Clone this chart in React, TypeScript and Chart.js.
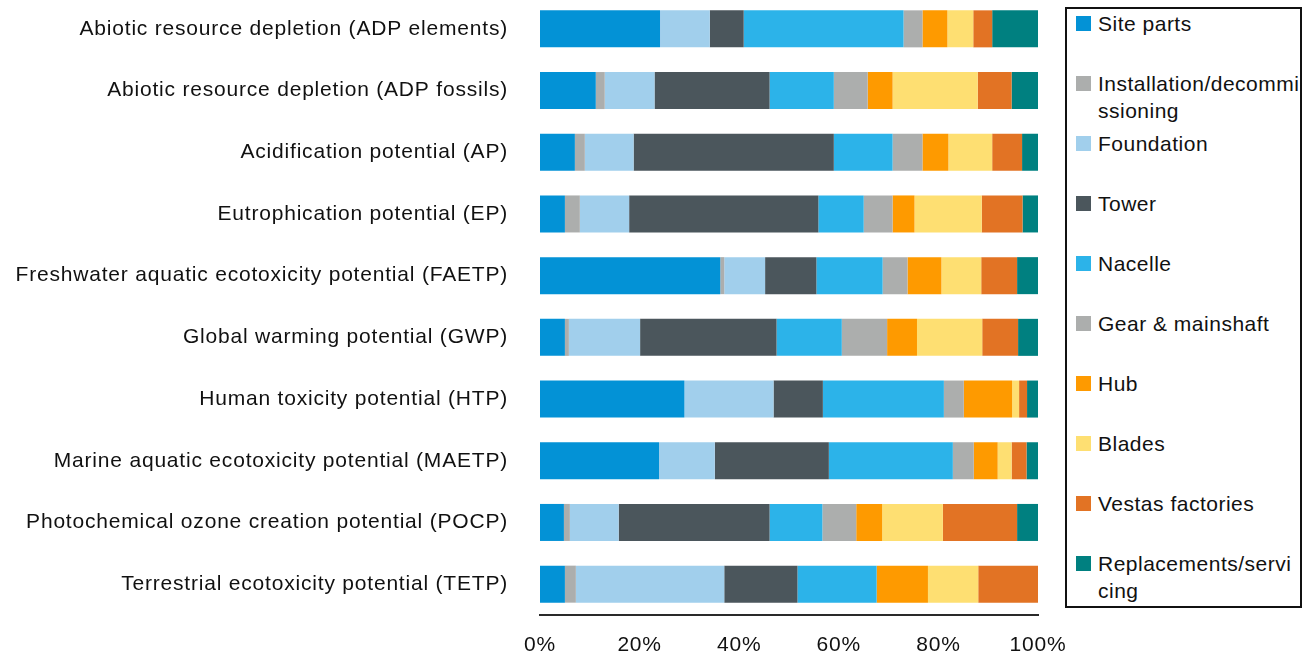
import React, { useEffect, useRef } from "react";
import { Chart, registerables } from "chart.js";

Chart.register(...registerables);

const categories = [
  "Abiotic resource depletion (ADP elements)",
  "Abiotic resource depletion (ADP fossils)",
  "Acidification potential (AP)",
  "Eutrophication potential (EP)",
  "Freshwater aquatic ecotoxicity potential (FAETP)",
  "Global warming potential (GWP)",
  "Human toxicity potential (HTP)",
  "Marine aquatic ecotoxicity potential (MAETP)",
  "Photochemical ozone creation potential (POCP)",
  "Terrestrial ecotoxicity potential (TETP)",
];

const seriesLabels = [
  "Site parts",
  "Installation/decommissioning",
  "Foundation",
  "Tower",
  "Nacelle",
  "Gear & mainshaft",
  "Hub",
  "Blades",
  "Vestas factories",
  "Replacements/servicing",
];

const seriesColors = [
  "#0392D6",
  "#ACAEAD",
  "#A1CFEC",
  "#4B565C",
  "#2CB3E9",
  "#ACAEAD",
  "#FE9A00",
  "#FEDF72",
  "#E27324",
  "#008080",
];

// Share (%) of each life-cycle stage, one value per category (top to bottom)
const siteParts = [24.1, 11.2, 7.0, 5.0, 36.2, 5.0, 29.0, 23.9, 4.8, 5.0];
const installation = [0, 1.8, 2.0, 3.0, 0.8, 0.8, 0, 0, 1.2, 2.2];
const foundation = [10.0, 10.0, 9.8, 9.9, 8.2, 14.3, 17.9, 11.2, 9.8, 29.8];
const tower = [6.8, 23.1, 40.2, 38.0, 10.3, 27.4, 9.9, 22.9, 30.3, 14.7];
const nacelle = [32.1, 12.9, 11.8, 9.1, 13.3, 13.1, 24.3, 24.9, 10.6, 15.9];
const gearMainshaft = [3.8, 6.8, 6.0, 5.8, 5.0, 9.1, 4.0, 4.2, 6.8, 0];
const hub = [5.0, 5.0, 5.2, 4.4, 6.8, 6.0, 9.7, 4.8, 5.2, 10.3];
const blades = [5.2, 17.1, 8.8, 13.5, 8.0, 13.1, 1.4, 2.8, 12.2, 10.1];
const vestasFactories = [3.8, 6.8, 6.0, 8.2, 7.2, 7.2, 1.6, 3.0, 14.9, 12.0];
const replacements = [9.2, 5.3, 3.2, 3.1, 4.2, 4.0, 2.2, 2.3, 4.2, 0];

const seriesValues = [
  siteParts,
  installation,
  foundation,
  tower,
  nacelle,
  gearMainshaft,
  hub,
  blades,
  vestasFactories,
  replacements,
];

const xTicks = [0, 20, 40, 60, 80, 100];

const FONT_FAMILY = '"Liberation Sans", Arial, sans-serif';

const spacingPlugin = {
  id: "letterSpacingPlugin",
  beforeLayout(chart: any) {
    (chart.ctx as any).letterSpacing = "0.8px";
  },
  beforeDraw(chart: any) {
    (chart.ctx as any).letterSpacing = "0.8px";
  },
};

function ChartCanvas() {
  const canvasRef = useRef<HTMLCanvasElement | null>(null);

  useEffect(() => {
    if (!canvasRef.current) return;
    const chart = new Chart(canvasRef.current, {
      type: "bar",
      data: {
        labels: categories,
        datasets: seriesLabels.map((label, i) => ({
          label,
          data: seriesValues[i],
          backgroundColor: seriesColors[i],
          borderWidth: 0,
          barPercentage: 0.6,
          categoryPercentage: 1,
        })),
      },
      options: {
        indexAxis: "y",
        animation: false,
        responsive: true,
        maintainAspectRatio: false,
        devicePixelRatio: 1,
        layout: { padding: { left: 0, right: 70, top: 0, bottom: 0 } },
        plugins: {
          legend: { display: false },
          tooltip: { enabled: false },
          title: { display: false },
        },
        scales: {
          x: {
            stacked: true,
            min: 0,
            max: 100,
            afterBuildTicks(scale: any) {
              scale.ticks = xTicks.map((v) => ({ value: v }));
            },
            afterFit(scale: any) {
              scale.height = 44;
            },
            grid: { display: false, drawTicks: false },
            border: { display: true, color: "#2a2a2a", width: 2 },
            ticks: {
              color: "#111",
              padding: 18,
              maxRotation: 0,
              font: { family: FONT_FAMILY, size: 21 },
              callback: (v: any) => `${v}%`,
            },
          },
          y: {
            stacked: true,
            afterFit(scale: any) {
              scale.width = 540;
              scale.paddingTop = 0;
              scale.paddingBottom = 0;
            },
            grid: { display: false, drawTicks: false },
            border: { display: false },
            ticks: {
              color: "#111",
              padding: 32,
              autoSkip: false,
              font: { family: FONT_FAMILY, size: 21 },
            },
          },
        },
      },
      plugins: [spacingPlugin],
    } as any);
    return () => chart.destroy();
  }, []);

  return (
    <div
      style={{
        position: "absolute",
        left: 0,
        top: -2,
        width: 1108,
        height: 661,
      }}
    >
      <canvas ref={canvasRef} />
    </div>
  );
}

function Legend() {
  return (
    <div
      style={{
        position: "absolute",
        left: 1065,
        top: 7,
        width: 237,
        height: 601,
        boxSizing: "border-box",
        border: "2px solid #111",
        background: "#fff",
      }}
    >
      {seriesLabels.map((label, i) => (
        <div
          key={label}
          style={{
            position: "absolute",
            left: 9,
            top: 0.5 + 60 * i,
            display: "flex",
            alignItems: "flex-start",
          }}
        >
          <div
            style={{
              width: 15,
              height: 15,
              marginTop: 6,
              background: seriesColors[i],
              flex: "0 0 auto",
            }}
          />
          <div
            style={{
              marginLeft: 7,
              width: 203,
              fontFamily: FONT_FAMILY,
              fontSize: 21,
              lineHeight: "27px",
              letterSpacing: "0.5px",
              color: "#111",
              wordBreak: "break-all",
            }}
          >
            {label}
          </div>
        </div>
      ))}
    </div>
  );
}

export default function App() {
  return (
    <div
      style={{
        position: "fixed",
        left: 0,
        top: 0,
        width: 1314,
        height: 659,
        background: "#fff",
        overflow: "hidden",
      }}
    >
      <ChartCanvas />
      <Legend />
    </div>
  );
}
